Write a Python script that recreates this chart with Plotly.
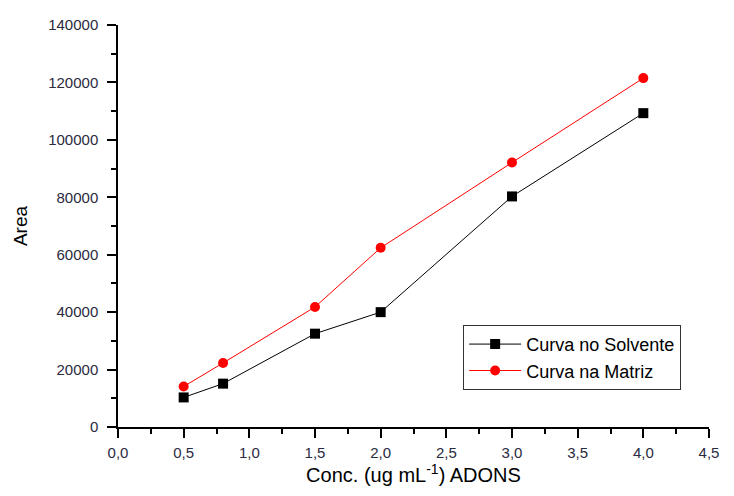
import plotly.graph_objects as go

conc = [0.5, 0.8, 1.5, 2.0, 3.0, 4.0]
area_solvente = [10300, 15100, 32500, 40000, 80300, 109300]
area_matriz = [14100, 22300, 41800, 62400, 92100, 121500]

x_tickvals = [0, 0.5, 1.0, 1.5, 2.0, 2.5, 3.0, 3.5, 4.0, 4.5]
x_ticktext = ["0,0", "0,5", "1,0", "1,5", "2,0", "2,5", "3,0", "3,5", "4,0", "4,5"]
y_tickvals = [0, 20000, 40000, 60000, 80000, 100000, 120000, 140000]
y_ticktext = ["0", "20000", "40000", "60000", "80000", "100000", "120000", "140000"]

fig = go.Figure()
fig.add_trace(go.Scatter(
    x=conc, y=area_solvente, name="Curva no Solvente",
    mode="lines+markers",
    line=dict(color="black", width=1),
    marker=dict(symbol="square", size=10, color="black"),
))
fig.add_trace(go.Scatter(
    x=conc, y=area_matriz, name="Curva na Matriz",
    mode="lines+markers",
    line=dict(color="red", width=1),
    marker=dict(symbol="circle", size=10, color="red"),
))

tickfont = dict(family="Liberation Sans, Arial, sans-serif", size=15, color="#2a2a40")

fig.update_layout(
    width=734, height=496,
    margin=dict(l=118, r=25, t=25, b=69),
    plot_bgcolor="white", paper_bgcolor="white",
    font=dict(family="Liberation Sans, Arial, sans-serif", color="black"),
    showlegend=True,
    legend=dict(
        x=0.584, y=0.254, xanchor="left", yanchor="top",
        bordercolor="#333333", borderwidth=1, bgcolor="white",
        font=dict(size=18, color="black"),
        tracegroupgap=0, itemwidth=52,
    ),
    xaxis=dict(
        range=[0, 4.5], showgrid=False, zeroline=False,
        showline=True, linecolor="black", linewidth=1.5,
        ticks="outside", ticklen=9, tickwidth=1.5, tickcolor="black",
        tickvals=x_tickvals, ticktext=x_ticktext, tickfont=tickfont,
        ticklabelstandoff=2,
        minor=dict(dtick=0.25, ticks="outside", ticklen=5, tickwidth=1.5, tickcolor="black", showgrid=False),
        title=dict(text="Conc. (ug mL<sup>-1</sup>) ADONS", font=dict(size=20, color="black"), standoff=8),
    ),
    yaxis=dict(
        range=[0, 140000], showgrid=False, zeroline=False,
        showline=True, linecolor="black", linewidth=1.5,
        ticks="outside", ticklen=9, tickwidth=1.5, tickcolor="black",
        tickvals=y_tickvals, ticktext=y_ticktext, tickfont=tickfont,
        ticklabelstandoff=6,
        minor=dict(dtick=10000, ticks="outside", ticklen=5, tickwidth=1.5, tickcolor="black", showgrid=False),
        title=dict(text="Area", font=dict(size=19, color="black"), standoff=16),
    ),
)

fig.write_html("out.html")
